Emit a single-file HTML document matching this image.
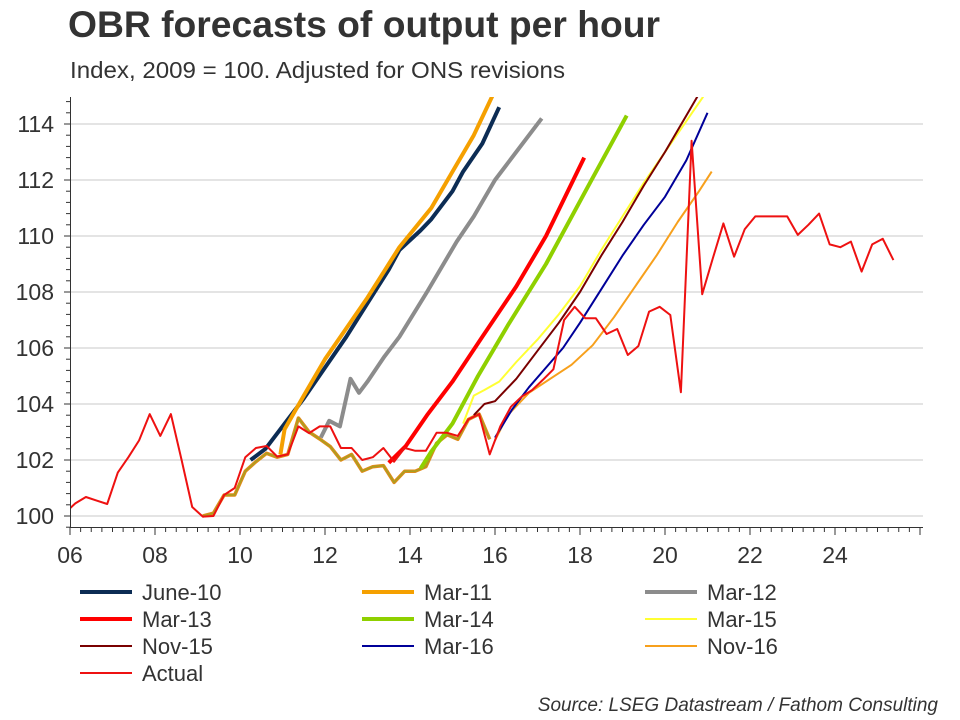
<!DOCTYPE html>
<html><head><meta charset="utf-8">
<style>
body{margin:0;background:#fff;}
svg{display:block;font-family:"Liberation Sans",Arial,sans-serif;}
</style></head>
<body>
<svg id="chart" width="960" height="720" viewBox="0 0 960 720">
<text x="68" y="37" font-size="37" font-weight="bold" fill="#333" textLength="592" lengthAdjust="spacingAndGlyphs">OBR forecasts of output per hour</text>
<text x="70" y="78" font-size="23" fill="#333" textLength="495" lengthAdjust="spacingAndGlyphs">Index, 2009 = 100. Adjusted for ONS revisions</text>
<text x="938" y="711" font-size="19" font-style="italic" fill="#333" text-anchor="end">Source: LSEG Datastream / Fathom Consulting</text>
<defs><clipPath id="plotclip"><rect x="71" y="97" width="852" height="430"/></clipPath></defs>
<g id="grid"></g>
<g id="series" clip-path="url(#plotclip)"></g>
<g id="axes"></g>
<g id="legend"></g>
</svg>
<script>
const yTicks = [100, 102, 104, 106, 108, 110, 112, 114];
const xTickYears = [2006, 2008, 2010, 2012, 2014, 2016, 2018, 2020, 2022, 2024];
const xTickLabels = ["06", "08", "10", "12", "14", "16", "18", "20", "22", "24"];

// Actual: quarterly, index -1 .. 77, quarter i centred at 2006 + (i+0.5)/4
const actualStart = -1;
const actual = [100.1,100.45,100.68,100.55,100.43,101.55,102.1,102.7,103.64,102.86,103.64,102.0,100.32,99.98,100.0,100.75,101.0,102.1,102.43,102.5,102.12,102.2,103.2,102.96,103.2,103.2,102.43,102.43,102.0,102.1,102.43,101.94,102.43,102.33,102.33,102.97,102.97,102.86,103.45,103.64,102.2,103.2,103.9,104.26,104.5,104.86,105.24,107.0,107.47,107.06,107.06,106.5,106.68,105.75,106.07,107.3,107.47,107.18,104.42,113.4,107.92,109.2,110.45,109.26,110.24,110.7,110.7,110.7,110.7,110.04,110.4,110.8,109.7,109.6,109.8,108.73,109.7,109.9,109.14];

// Vintage history bundle (shared by forecasts), quarters 12..39
const vintageStart = 12;
const vintageHistory = [100.0,100.1,100.75,100.75,101.6,101.94,102.24,102.1,102.2,103.5,103.0,102.75,102.48,102.0,102.2,101.6,101.76,101.8,101.2,101.6,101.6,101.76,102.6,102.9,102.74,103.45,103.64,102.74];

const june10Years = [2010.25,2010.6,2010.95,2011.5,2012.0,2012.5,2013.0,2013.5,2013.75,2014.25,2014.5,2015.0,2015.25,2015.7,2016.1];
const june10Values = [102.0,102.4,103.1,104.2,105.3,106.4,107.6,108.8,109.5,110.2,110.6,111.6,112.3,113.3,114.6];
const mar11Years = [2010.95,2011.05,2011.5,2012.0,2012.5,2013.0,2013.5,2013.75,2014.5,2015.0,2015.5,2016.0];
const mar11Values = [102.2,103.1,104.3,105.6,106.7,107.8,109.0,109.6,111.0,112.3,113.6,115.2];
const mar12Years = [2011.9,2012.1,2012.35,2012.6,2012.8,2013.0,2013.4,2013.75,2014.4,2015.1,2015.5,2016.0,2017.1];
const mar12Values = [102.8,103.4,103.2,104.9,104.4,104.8,105.7,106.4,108.0,109.8,110.7,112.0,114.2];
const mar13Years = [2013.5,2013.9,2014.4,2015.0,2015.7,2016.5,2017.2,2018.1];
const mar13Values = [101.9,102.5,103.6,104.8,106.4,108.2,110.0,112.8];
const mar14Years = [2014.25,2014.5,2015.0,2015.6,2016.3,2017.2,2018.2,2019.1];
const mar14Values = [101.7,102.3,103.3,105.0,106.8,109.0,111.8,114.3];
const mar15Years = [2015.25,2015.5,2015.75,2016.1,2016.5,2017.0,2017.5,2018.0,2018.5,2019.0,2019.5,2020.0,2020.5,2021.0];
const mar15Values = [103.3,104.3,104.5,104.8,105.5,106.3,107.2,108.2,109.5,110.7,111.9,113.0,114.1,115.2];
const nov15Years = [2015.5,2015.75,2016.0,2016.5,2017.0,2017.5,2018.0,2018.5,2019.0,2019.5,2020.0,2020.5,2021.0];
const nov15Values = [103.6,104.0,104.1,104.9,105.9,106.9,108.0,109.3,110.5,111.8,113.0,114.3,115.6];
const mar16Years = [2016.0,2016.4,2016.8,2017.2,2017.6,2018.0,2018.5,2019.0,2019.5,2020.0,2020.5,2021.0];
const mar16Values = [102.8,103.8,104.6,105.3,106.0,106.9,108.1,109.3,110.4,111.4,112.7,114.4];
const nov16Years = [2016.0,2016.3,2016.8,2017.3,2017.8,2018.3,2018.8,2019.3,2019.8,2020.3,2020.8,2021.1];
const nov16Values = [102.7,103.6,104.4,104.9,105.4,106.1,107.1,108.2,109.3,110.5,111.6,112.3];

const X0 = 70, PXY = 42.5, Y0 = 516, PXV = 28;
function xs(t){ return X0 + (t - 2006) * PXY; }
function ys(v){ return Y0 - (v - 100) * PXV; }
function qTime(i){ return 2006 + (i + 0.5) / 4; }
const NS = "http://www.w3.org/2000/svg";
function mk(tag, attrs, parent){ const e = document.createElementNS(NS, tag); for (const k in attrs) e.setAttribute(k, attrs[k]); parent.appendChild(e); return e; }

const grid = document.getElementById('grid');
const axes = document.getElementById('axes');
yTicks.forEach(v => {
  const l = mk('line', {x1: 71, x2: 923, y1: ys(v), y2: ys(v), stroke: '#c8c8c8', 'stroke-width': 1}, grid);
  
  
  const t = mk('text', {x: 54, y: ys(v) + 8, 'font-size': 23, 'text-anchor': 'end', fill: '#333'}, axes);
  t.textContent = v;
  
  
});
const ya = mk('line', {x1: 70.5, x2: 70.5, y1: 97, y2: 527, stroke: '#333', 'stroke-width': 1}, axes);


for (let v = 99.6; v <= 115.01; v += 0.4) {
  const major = Math.abs(v - Math.round(v)) < 0.01 && Math.round(v) % 2 === 0;
  mk('line', {x1: major ? 64 : 66, x2: 70.5, y1: ys(v), y2: ys(v), stroke: '#333', 'stroke-width': 1}, axes);
}
const xa = mk('line', {x1: 70, x2: 923, y1: 527.5, y2: 527.5, stroke: '#333', 'stroke-width': 1}, axes);


for (let q = 0; q <= 80; q++) {
  const t = 2006 + q / 4;
  mk('line', {x1: xs(t), x2: xs(t), y1: 527.5, y2: q % 8 === 0 ? 535 : 532, stroke: '#333', 'stroke-width': 1}, axes);
}
xTickYears.forEach((yr, i) => {
  const t = mk('text', {x: xs(yr), y: 563, 'font-size': 23, 'text-anchor': 'middle', fill: '#333'}, axes);
  t.textContent = xTickLabels[i];
  
  
});

const sg = document.getElementById('series');
function drawPts(pts, color, w, name){
  const d = pts.map((p, i) => (i ? 'L' : 'M') + xs(p[0]).toFixed(1) + ',' + ys(p[1]).toFixed(1)).join(' ');
  const p = mk('path', {d: d, fill: 'none', stroke: color, 'stroke-width': w, 'stroke-linejoin': 'round'}, sg);
  
  
}
function fromQ(start, vals){ return vals.map((v, i) => [qTime(start + i), v]); }
function fromYV(yrs, vals){ return yrs.map((y, i) => [y, vals[i]]); }

drawPts(fromQ(vintageStart, vintageHistory), '#e08a1a', 3.5, 'vintage-history-bundle');
drawPts(fromQ(vintageStart, vintageHistory), '#a8a020', 1.5, 'vintage-history-bundle-inner');
const series = [
  ['mar12', mar12Years, mar12Values, '#8c8c8c', 4],
  ['nov16', nov16Years, nov16Values, '#f7a01c', 2],
  ['mar16', mar16Years, mar16Values, '#000099', 2],
  ['mar15', mar15Years, mar15Values, '#ffff33', 2],
  ['nov15', nov15Years, nov15Values, '#7a0000', 2],
  ['mar14', mar14Years, mar14Values, '#8fd000', 4],
  ['mar13', mar13Years, mar13Values, '#ff0000', 4],
  ['june10', june10Years, june10Values, '#0c2c54', 4],
  ['mar11', mar11Years, mar11Values, '#f5a000', 4]
];
series.forEach(s => drawPts(fromYV(s[1], s[2]), s[3], s[4], 'line-' + s[0]));
drawPts(fromQ(actualStart, actual), '#ee1111', 2, 'line-actual');

const legendItems = [
  ['June-10', '#0c2c54', 4], ['Mar-11', '#f5a000', 4], ['Mar-12', '#8c8c8c', 4],
  ['Mar-13', '#ff0000', 4], ['Mar-14', '#8fd000', 4], ['Mar-15', '#ffff33', 2],
  ['Nov-15', '#7a0000', 2], ['Mar-16', '#000099', 2], ['Nov-16', '#f7a01c', 2],
  ['Actual', '#ee1111', 2]
];
const lg = document.getElementById('legend');
const colX = [80, 362, 645], rowY = [592, 619, 646, 673];
legendItems.forEach((it, i) => {
  const cx = colX[i % 3], cy = rowY[Math.floor(i / 3)];
  const g = mk('g', {}, lg);
  
  
  mk('line', {x1: cx, x2: cx + 52, y1: cy, y2: cy, stroke: it[1], 'stroke-width': it[2]}, g);
  const t = mk('text', {x: cx + 62, y: cy + 8, 'font-size': 22, fill: '#333'}, g);
  t.textContent = it[0];
});
</script>
</body></html>
